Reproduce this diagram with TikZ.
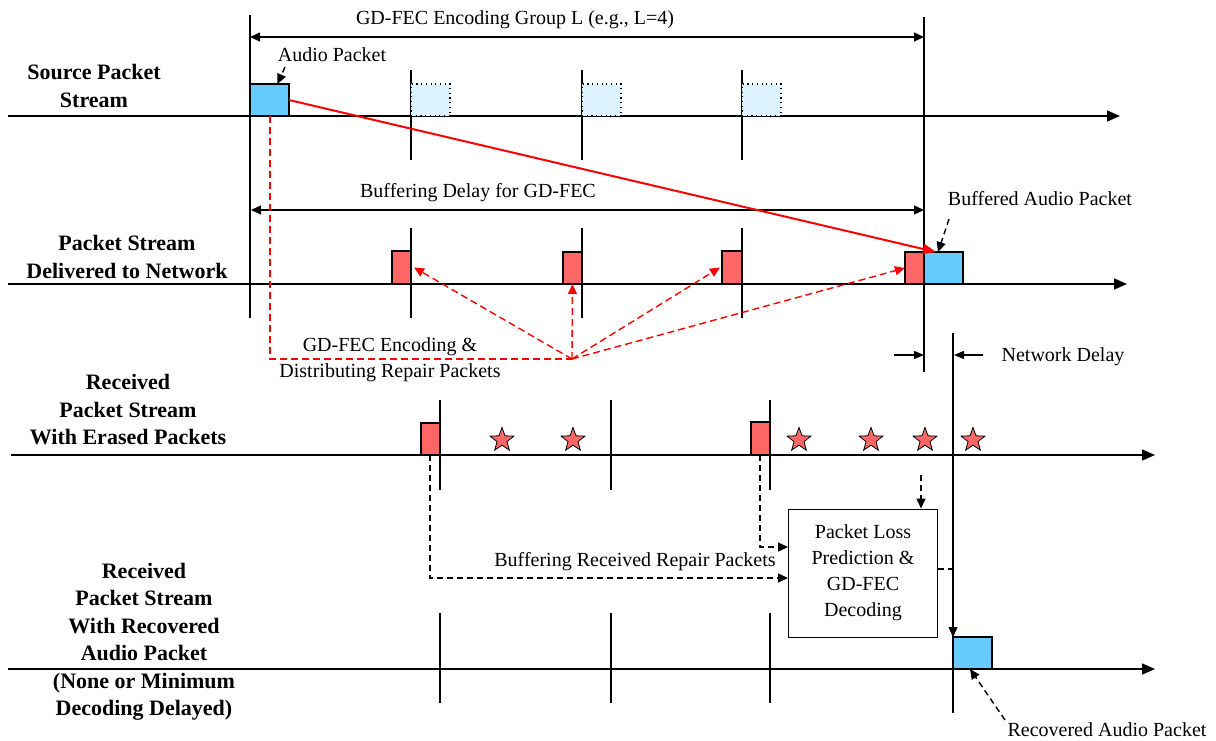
\documentclass[tikz,border=0pt]{standalone}
\usepackage{fontspec}
\setmainfont{Liberation Serif}
\usetikzlibrary{arrows.meta,shapes.geometric}
\definecolor{pktblue}{HTML}{66CCFF}
\definecolor{pktred}{HTML}{FF6666}
\definecolor{ghostblue}{HTML}{DDF2FF}
\begin{document}
\begin{tikzpicture}[x=1pt,y=-1pt,
 axis/.style={line width=1.6pt,-{Triangle[length=13pt,width=11pt]}},
 vline/.style={line width=1.2pt},
 dimarr/.style={line width=1.2pt,{Triangle[length=10pt,width=9pt]}-{Triangle[length=10pt,width=9pt]}},
 onearr/.style={line width=1.2pt,-{Triangle[length=10pt,width=8pt]}},
 pk/.style={draw,line width=1.2pt,inner sep=0pt,outer sep=0pt},
 bluepk/.style={pk,fill=pktblue,minimum width=39pt,minimum height=32pt},
 redpk/.style={pk,fill=pktred,minimum width=19pt,minimum height=33pt},
 ghostpk/.style={pk,line width=1.2pt,dash pattern=on 1.2pt off 3.5pt,fill=ghostblue,minimum width=39pt,minimum height=32pt},
 erased/.style={star,star points=5,star point ratio=2.4,draw,line width=0.8pt,fill=pktred,minimum size=25pt,inner sep=0pt},
 lbl/.style={font=\fontsize{20}{26}\selectfont,align=center,inner sep=0pt},
 rowlbl/.style={font=\bfseries\fontsize{22}{27.5}\selectfont,align=center,inner sep=0pt},
 reddash/.style={red,line width=1.4pt,dash pattern=on 7pt off 4pt},
 redtip/.style={reddash,-{Triangle[length=10pt,width=9pt]}},
 blkdash/.style={line width=1.4pt,dash pattern=on 6pt off 4pt,-{Triangle[length=10pt,width=9pt]}},
]
\useasboundingbox (0,0) rectangle (1216,740);

% ---------- row labels ----------
\node[rowlbl] (l1) at (94,86) {Source Packet\\Stream};
\node[rowlbl] (l2) at (127,257) {Packet Stream\\Delivered to Network};
\node[rowlbl] (l3) at (128,410) {Received\\Packet Stream\\With Erased Packets};
\node[rowlbl] (l4) at (144,642) {Received\\Packet Stream\\With Recovered\\Audio Packet\\(None or Minimum\\Decoding Delayed)};

% ---------- axes ----------
\coordinate (a1s) at (8,116);  \coordinate (a1e) at (1120,116);
\coordinate (a2s) at (8,284);  \coordinate (a2e) at (1127,284);
\coordinate (a3s) at (11,455); \coordinate (a3e) at (1155,455);
\coordinate (a4s) at (8,669);  \coordinate (a4e) at (1155,669);
\draw[axis] (a1s) -- (a1e);
\draw[axis] (a2s) -- (a2e);
\draw[axis] (a3s) -- (a3e);
\draw[axis] (a4s) -- (a4e);

% ---------- vertical markers ----------
\draw[vline] (250,15) -- (250,318);
\draw[vline] (924,17) -- (924,372);
\draw[vline] (953,333) -- (953,713);
\foreach \x in {411,582,742} {
  \draw[vline] (\x,70) -- (\x,160);
  \draw[vline] (\x,228) -- (\x,318);
}
\foreach \x in {440,611,770} {
  \draw[vline] (\x,400) -- (\x,490);
  \draw[vline] (\x,613) -- (\x,703);
}

% ---------- dimension arrows ----------
\coordinate (g1) at (250,37); \coordinate (g2) at (924,37);
\draw[dimarr] (g1) -- (g2);
\node[lbl] (gtitle) at (515,20) {GD-FEC Encoding Group L (e.g., L=4)};
\coordinate (b1) at (251,210); \coordinate (b2) at (924,210);
\draw[dimarr] (b1) -- (b2);
\node[lbl] (btitle) at (478,193) {Buffering Delay for GD-FEC};

\coordinate (n1s) at (894,355); \coordinate (n1e) at (924,355);
\coordinate (n2s) at (983,355); \coordinate (n2e) at (954,355);
\draw[onearr] (n1s) -- (n1e);
\draw[onearr] (n2s) -- (n2e);
\node[lbl] (ndelay) at (1063,357) {Network Delay};

% ---------- row 1 packets ----------
\node[bluepk,anchor=south west] (ap) at (250,116) {};
\node[ghostpk,anchor=south west] (gp1) at (411,116) {};
\node[ghostpk,anchor=south west] (gp2) at (582,116) {};
\node[ghostpk,anchor=south west] (gp3) at (742,116) {};
\node[lbl] (apl) at (332,55) {Audio Packet};
\coordinate (aplt) at (285,67);
\draw[blkdash] (aplt) -- ([xshift=8pt]ap.north);

% ---------- row 2 packets ----------
\node[redpk,anchor=south east] (r1) at (411,284) {};
\node[redpk,anchor=south east,minimum height=32pt] (r2) at (582,284) {};
\node[redpk,anchor=south east,minimum width=20pt] (r3) at (742,284) {};
\node[redpk,anchor=south east,minimum height=32pt] (r4) at (924,284) {};
\node[bluepk,anchor=south west] (bap) at (924,284) {};
\node[lbl] (bapl) at (1040,199) {Buffered Audio Packet};
\coordinate (baplt) at (949,219);
\draw[blkdash] (baplt) -- ([xshift=14pt]bap.north west);

% red solid: audio packet is buffered
\draw[red,line width=2pt,-{Triangle[length=13pt,width=10pt]}] (ap.east) -- ([xshift=12pt]bap.north west);

% red dashed: encoding & distribution
\coordinate (hub) at (572,359);
\draw[reddash] ([xshift=0.5pt]ap.south) |- (hub);
\draw[redtip] (hub) -- ([xshift=3pt]r1.east);
\draw[redtip] (hub) -- (r2.south);
\draw[redtip] (hub) -- ([xshift=-2pt]r3.west);
\draw[redtip] (hub) -- (r4.west);
\node[lbl] (enc) at (390,360) {GD-FEC Encoding \&\\Distributing Repair Packets};

% ---------- row 3 ----------
\node[redpk,anchor=south east,minimum height=32pt] (q1) at (440,455) {};
\node[redpk,anchor=south east,minimum height=33pt] (q2) at (770,455) {};
\node[erased] (s1) at (502,440) {};
\node[erased] (s2) at (573,440) {};
\node[erased] (s3) at (799,440) {};
\node[erased] (s4) at (871,440) {};
\node[erased] (s5) at (925,440) {};
\node[erased] (s6) at (973,440) {};

% ---------- decoder ----------
\node[draw,line width=1pt,minimum width=149pt,minimum height=128pt,lbl,inner sep=0pt] (dec) at (863,573)
  {Packet Loss\\Prediction \&\\GD-FEC\\Decoding};
\draw[blkdash] ([xshift=-0.5pt]q1.south) |- ([yshift=-5pt]dec.west);
\draw[blkdash] ([xshift=-0.5pt]q2.south) |- ([yshift=26pt]dec.west);
\node[lbl] (bufrx) at (635,562) {Buffering Received Repair Packets};
\coordinate (lossin) at (921,475);
\draw[blkdash] (lossin) -- (lossin |- dec.north);

% ---------- row 4 ----------
\node[bluepk,anchor=south west] (rap) at (953,669) {};
\draw[blkdash] ([yshift=4pt]dec.east) -| (rap.north west);
\node[lbl] (rapl) at (1107,730) {Recovered Audio Packet};
\coordinate (raplt) at (1005,720);
\draw[blkdash] (raplt) -- ([xshift=17pt]rap.south west);

\end{tikzpicture}
\end{document}
